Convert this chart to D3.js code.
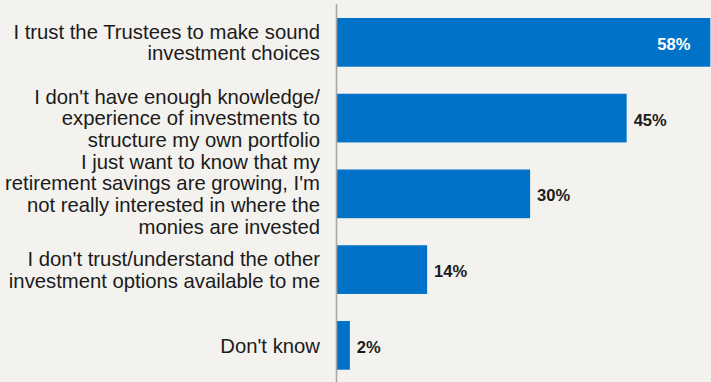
<!DOCTYPE html>
<html>
<head>
<meta charset="utf-8">
<script src="https://cdn.jsdelivr.net/npm/d3@7"></script>
<style>
  html, body { margin: 0; padding: 0; background: #f3f2ee; }
  svg { display: block; }
</style>
</head>
<body>
<script>
// Reasons for staying in the default investment option
const categories = [
  ["I trust the Trustees to make sound", "investment choices"],
  ["I don't have enough knowledge/", "experience of investments to", "structure my own portfolio"],
  ["I just want to know that my", "retirement savings are growing, I'm", "not really interested in where the", "monies are invested"],
  ["I don't trust/understand the other", "investment options available to me"],
  ["Don't know"]
];
const values = [58, 45, 30, 14, 2];
const valueLabels = ["58%", "45%", "30%", "14%", "2%"];

const W = 711, H = 382;
const svg = d3.select("body").append("svg").attr("width", W).attr("height", H);
svg.append("rect").attr("width", W).attr("height", H).attr("fill", "#f3f2ee");

const ids = d3.range(values.length);
const x = d3.scaleLinear().domain([0, 100]).range([337, 337 + 643.7]);
const y = d3.scaleBand().domain(ids).range([18, 369.7]).paddingInner(0.357).paddingOuter(0);

// bars
svg.append("g").selectAll("rect").data(ids).join("rect")
  .attr("x", x(0))
  .attr("y", i => y(i))
  .attr("width", i => x(values[i]) - x(0))
  .attr("height", y.bandwidth())
  .attr("fill", "#0073c8");

// vertical baseline
svg.append("line")
  .attr("x1", x(0) - 0.5).attr("x2", x(0) - 0.5)
  .attr("y1", 4).attr("y2", H)
  .attr("stroke", "#a9a8a6").attr("stroke-width", 1.6);

// category labels, multi-line, right aligned
const fs = 20.3, lh = 21.6;
const cat = svg.append("g")
  .attr("font-family", "'Liberation Sans', Arial, Helvetica, sans-serif")
  .attr("font-size", fs)
  .attr("fill", "#1b1b1b")
  .attr("text-anchor", "end");
ids.forEach(i => {
  const lines = categories[i];
  const cy = y(i) + y.bandwidth() / 2;
  const first = cy - (lines.length - 1) * lh / 2 + fs * 0.36;
  const t = cat.append("text");
  lines.forEach((ln, k) => {
    t.append("tspan").attr("x", 320).attr("y", first + k * lh).text(ln);
  });
});

// value labels: the longest bar carries its label inside
const maxV = d3.max(values);
svg.append("g")
  .attr("font-family", "'Liberation Sans', Arial, Helvetica, sans-serif")
  .attr("font-size", 16.5)
  .attr("font-weight", "bold")
  .selectAll("text").data(ids).join("text")
  .attr("x", i => values[i] === maxV ? x(values[i]) - 20 : x(values[i]) + 7)
  .attr("y", i => y(i) + y.bandwidth() / 2 + 7.5)
  .attr("text-anchor", i => values[i] === maxV ? "end" : "start")
  .attr("fill", i => values[i] === maxV ? "#ffffff" : "#1b1b1b")
  .text(i => valueLabels[i]);
</script>
</body>
</html>
